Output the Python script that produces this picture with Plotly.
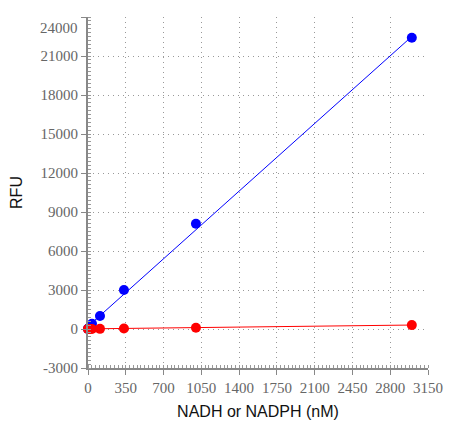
import plotly.graph_objects as go

# Concentrations (nM) - 3-fold dilution series
conc = [0, 1.37, 4.1, 12.3, 37, 111, 333, 1000, 3000]

# Fluorescence readings (RFU)
nadh_rfu = [0, 10, 30, 100, 400, 1000, 3000, 8100, 22400]
nadph_rfu = [0, 0, 1, 2, 4, 12, 35, 100, 300]

# Linear fit end points
fit_x = [0, 3000]
nadh_fit = [200, 22500]
nadph_fit = [10, 305]

# Axis ticks
x_ticks = [0, 350, 700, 1050, 1400, 1750, 2100, 2450, 2800, 3150]
y_ticks = [-3000, 0, 3000, 6000, 9000, 12000, 15000, 18000, 21000, 24000]

blue = "#0000ff"
red = "#ff0000"

fig = go.Figure()

fig.add_trace(go.Scatter(x=fit_x, y=nadh_fit, mode="lines",
                         line=dict(color=blue, width=1), cliponaxis=False))
fig.add_trace(go.Scatter(x=conc, y=nadh_rfu, mode="markers",
                         marker=dict(color=blue, size=10), cliponaxis=False))
fig.add_trace(go.Scatter(x=fit_x, y=nadph_fit, mode="lines",
                         line=dict(color=red, width=1), cliponaxis=False))
fig.add_trace(go.Scatter(x=conc, y=nadph_rfu, mode="markers",
                         marker=dict(color=red, size=10), cliponaxis=False))

tick_font = dict(family="'Liberation Serif', 'DejaVu Serif', serif", size=15, color="#666666")
title_font = dict(family="'Liberation Sans', Arial, sans-serif", size=16, color="#111111")

axis_common = dict(
    showline=True, linecolor="#888888", linewidth=2,
    ticks="outside", ticklen=5, tickcolor="#888888", tickwidth=1,
    showgrid=True, gridcolor="#999999", griddash="1px,4px", gridwidth=1,
    zeroline=False, tickfont=tick_font, title_font=title_font,
    automargin=False,
)

# top label sits a bit lower than its tick, so draw it separately
y_labels = [str(v) for v in y_ticks]
y_labels[-1] = ""

fig.update_xaxes(
    range=[x_ticks[0], x_ticks[-1]], tickvals=x_ticks,
    title_text="NADH or NADPH (nM)", title_standoff=11,
    minor=dict(dtick=35, ticks="inside", ticklen=3, tickcolor="#999999", showgrid=False),
    **axis_common,
)
fig.update_yaxes(
    range=[y_ticks[0], y_ticks[-1]], tickvals=y_ticks, ticktext=y_labels,
    title_text="RFU", title_standoff=14,
    minor=dict(dtick=300, ticks="inside", ticklen=3, tickcolor="#999999", showgrid=False),
    **axis_common,
)

fig.add_annotation(x=0, xref="x", y=y_ticks[-1], yref="y", text=str(y_ticks[-1]),
                   showarrow=False, xanchor="right", xshift=-8, yshift=-11,
                   font=tick_font)

# page body adds an 8px offset, so the figure is 8px smaller
fig.update_layout(
    width=460, height=422,
    margin=dict(l=80, r=40, t=9, b=62),
    paper_bgcolor="white", plot_bgcolor="white",
    showlegend=False,
)

fig.write_html("out.html")
